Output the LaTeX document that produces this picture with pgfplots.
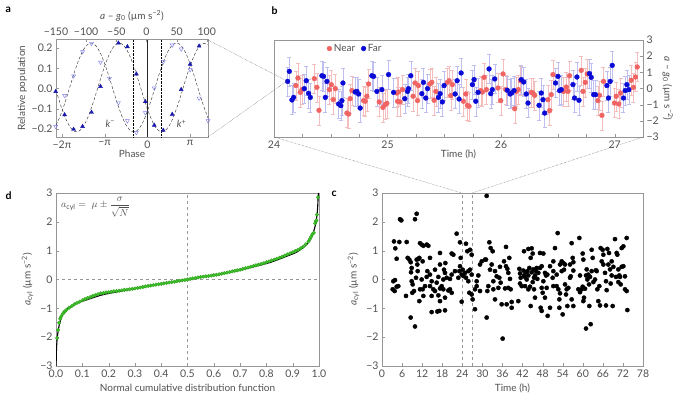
\documentclass[border=0pt]{standalone}
\usepackage{fontspec}
\setmainfont{Lato}
\usepackage{pgfplots}
\pgfplotsset{compat=1.18}
\definecolor{tg}{RGB}{80,80,80}
\definecolor{fg}{RGB}{150,150,150}
\definecolor{dblue}{RGB}{25,25,170}
\definecolor{lblue}{RGB}{120,120,235}
\definecolor{nearc}{RGB}{240,100,100}
\definecolor{farc}{RGB}{10,10,215}
\definecolor{nearl}{RGB}{245,190,190}
\definecolor{farl}{RGB}{190,190,240}
\definecolor{grn}{RGB}{60,195,40}
\pgfplotsset{myax/.style={scale only axis, anchor=south west,
  axis line style={fg}, tick style={fg},
  every tick label/.append style={font=\fontsize{10.5}{11}\selectfont, text=tg},
  label style={font=\fontsize{10}{11}\selectfont, text=tg},
  major tick length=3pt, minor tick length=3pt,
  /pgf/number format/assume math mode=true}}
\newcommand{\unitl}{(µm s\textsuperscript{−2})}
\begin{document}
\begin{tikzpicture}
\path[use as bounding box] (0,0) rectangle (685pt,401pt);
% ---------------- panel a ----------------
\begin{axis}[myax, at={(56pt,264pt)}, width=152pt, height=98pt,
  xmin=-2.14, xmax=1.42, ymin=-0.24, ymax=0.245, clip=false,
  xtick={-2,-1,0,1}, xticklabels={−2π,−π,0,π},
  ytick={-0.2,-0.1,0,0.1,0.2}, yticklabels={−0.2,−0.1,0.0,0.1,0.2},
  xtick pos=bottom, ytick pos=left,
  xlabel={Phase}, ylabel={Relative population},
  xlabel style={yshift=5pt}, ylabel style={yshift=-2pt}]
\addplot[black!85, densely dashed, thin, smooth] coordinates {
(-2.14,-0.009)(-2.1,-0.036)(-2.0,-0.101)(-1.9,-0.155)(-1.8,-0.194)(-1.7,-0.213)(-1.6,-0.211)(-1.5,-0.188)(-1.4,-0.146)(-1.3,-0.089)(-1.2,-0.023)(-1.1,0.046)(-1.0,0.111)(-0.9,0.165)(-0.8,0.204)(-0.7,0.223)(-0.6,0.221)(-0.5,0.198)(-0.4,0.156)(-0.3,0.099)(-0.2,0.033)(-0.1,-0.036)(0.0,-0.101)(0.1,-0.155)(0.2,-0.194)(0.3,-0.213)(0.4,-0.211)(0.5,-0.188)(0.6,-0.146)(0.7,-0.089)(0.8,-0.023)(0.9,0.046)(1.0,0.111)(1.1,0.165)(1.2,0.204)(1.3,0.223)(1.4,0.221)(1.42,0.218)};
\addplot[black!85, densely dashed, thin, smooth] coordinates {
(-2.14,-0.181)(-2.1,-0.165)(-2.0,-0.113)(-1.9,-0.050)(-1.8,0.019)(-1.7,0.086)(-1.6,0.145)(-1.5,0.191)(-1.4,0.218)(-1.3,0.225)(-1.2,0.210)(-1.1,0.175)(-1.0,0.123)(-0.9,0.060)(-0.8,-0.009)(-0.7,-0.076)(-0.6,-0.135)(-0.5,-0.181)(-0.4,-0.208)(-0.3,-0.215)(-0.2,-0.200)(-0.1,-0.165)(0.0,-0.113)(0.1,-0.050)(0.2,0.019)(0.3,0.086)(0.4,0.145)(0.5,0.191)(0.6,0.218)(0.7,0.225)(0.8,0.210)(0.9,0.175)(1.0,0.123)(1.1,0.060)(1.2,-0.009)(1.3,-0.076)(1.4,-0.135)(1.42,-0.146)};
\addplot[black, densely dotted, thin] coordinates {(-0.34,-0.24)(-0.34,0.245)};
\addplot[black, densely dotted, thin] coordinates {(0.33,-0.24)(0.33,0.245)};
\addplot[black!85, line width=1pt] coordinates {(0,-0.24)(0,0.245)};
\addplot[only marks, mark=triangle*, mark size=2.3pt, mark options={fill=dblue, draw=dblue}] coordinates {
(-2.148,-0.015)(-1.938,-0.13)(-1.728,-0.202)(-1.518,-0.188)(-1.308,-0.118)(-1.098,0.01)(-0.678,0.225)(-0.468,0.207)(-0.258,0.072)(-0.048,-0.065)(0.162,-0.182)(0.372,-0.207)(0.582,-0.128)(0.792,-0.005)(1.002,0.12)(1.212,0.21)};
\addplot[only marks, mark=triangle, mark size=2.3pt, mark options={rotate=180, draw=lblue, fill=white}] coordinates {
(-2.148,-0.188)(-1.938,-0.035)(-1.728,0.062)(-1.518,0.182)(-1.308,0.223)(-1.098,0.13)(-0.888,0.05)(-0.678,-0.07)(-0.468,-0.16)(-0.258,-0.218)(-0.048,-0.12)(0.162,0.002)(0.372,0.132)(0.582,0.215)(0.792,0.195)(1.002,0.093)(1.212,-0.048)(1.422,-0.16)};
\node[font=\fontsize{10}{10}\selectfont, text=tg] at (axis cs:-0.87,-0.175) {\textit{k}\textsuperscript{−}};
\node[font=\fontsize{10}{10}\selectfont, text=tg] at (axis cs:0.8,-0.175) {\textit{k}\textsuperscript{+}};
\end{axis}
\begin{axis}[myax, at={(56pt,264pt)}, width=152pt, height=98pt,
  xmin=-150, xmax=102, ymin=0, ymax=1, axis x line*=top, hide y axis,
  xtick={-150,-100,-50,0,50,100}, xticklabels={−150,−100,−50,0,50,100},
  xlabel={\textit{a} – \textit{g}\textsubscript{0} \unitl}]
\end{axis}
% ---------------- panel b ----------------
\begin{axis}[myax, at={(274pt,264pt)}, width=369pt, height=97pt,
  xmin=24, xmax=27.25, ymin=-3, ymax=3, clip=false,
  xtick={24,25,26,27}, minor xtick={24.25,24.5,24.75,25.25,25.5,25.75,26.25,26.5,26.75,27.25},
  ytick={-3,-2,-1,0,1,2,3}, yticklabels={−3,−2,−1,0,1,2,3},
  xtick pos=bottom, ytick pos=right, yticklabel pos=right,
  xlabel={Time (h)}, xlabel style={yshift=5pt},
  ylabel={\textit{a} – \textit{g}\textsubscript{0} \unitl}, ylabel style={rotate=180, yshift=-3pt},
  legend style={at={(0.135,1.0)}, anchor=north west, draw=none, fill=none, legend columns=2,
    font=\fontsize{10}{10}\selectfont, text=tg, /tikz/every even column/.append style={column sep=4pt}},
  legend cell align=left]
\addplot[forget plot, draw=none, mark=none, error bars/.cd, y dir=both, y fixed=0.9,
  error bar style={nearl, thin}, error mark options={nearl, rotate=90, mark size=2pt}] coordinates {
(24.193,0.18)(24.211,0.65)(24.232,-0.24)(24.246,-0.07)(24.355,0.61)(24.378,0.07)(24.396,-1.35)(24.487,-0.07)(24.504,0.24)(24.522,-0.69)(24.540,-0.01)(24.642,-1.52)(24.657,-1.58)(24.671,-0.63)(24.686,-0.13)(24.789,-0.75)(24.803,-0.79)(24.818,-0.48)(24.833,0.28)(24.927,-0.83)(24.959,-1.17)(24.979,-1.00)(24.994,-0.92)(25.082,-0.28)(25.088,-0.79)(25.096,-0.22)(25.108,-0.83)(25.132,-0.07)(25.225,-0.48)(25.243,0.34)(25.264,-0.75)(25.272,0.18)(25.372,0.28)(25.390,0.38)(25.410,-0.73)(25.425,-0.18)(25.527,0.38)(25.542,0.48)(25.557,-0.44)(25.571,0.24)(25.668,-0.79)(25.689,-0.34)(25.703,-1.04)(25.718,-1.10)(25.821,-0.13)(25.835,-0.22)(25.850,0.69)(25.871,-0.07)(25.973,0.03)(25.997,-0.75)(26.017,0.90)(26.041,-0.07)(26.120,-1.25)(26.134,-0.18)(26.152,-0.07)(26.172,0.48)(26.266,-0.24)(26.281,-0.28)(26.296,-0.42)(26.413,-0.69)(26.428,-1.37)(26.442,-0.38)(26.457,0.86)(26.551,-0.18)(26.574,0.09)(26.589,-0.18)(26.603,0.79)(26.706,1.12)(26.721,-0.18)(26.741,0.38)(26.759,0.90)(26.853,-0.75)(26.867,-0.42)(26.888,-1.66)(26.902,0.44)(26.999,-0.90)(27.014,-0.48)(27.037,-0.96)(27.052,-0.28)(27.146,0.51)(27.166,0.07)(27.184,0.71)(27.199,1.33)};
\addplot[forget plot, draw=none, mark=none, error bars/.cd, y dir=both, y fixed=0.9,
  error bar style={farl, thin}, error mark options={farl, rotate=90, mark size=2pt}] coordinates {
(24.120,0.44)(24.135,1.06)(24.158,-0.71)(24.173,-0.55)(24.267,-0.01)(24.284,0.48)(24.305,-0.30)(24.320,-0.55)(24.422,0.79)(24.437,0.75)(24.452,-0.55)(24.466,0.44)(24.569,-0.96)(24.589,-1.06)(24.598,-0.75)(24.607,0.34)(24.715,-0.22)(24.730,-0.18)(24.745,-0.34)(24.759,-1.21)(24.862,0.79)(24.877,0.75)(24.906,-0.18)(24.950,-0.07)(25.009,0.86)(25.053,-0.24)(25.152,-0.63)(25.176,-0.18)(25.184,-0.01)(25.205,0.79)(25.302,-0.32)(25.316,0.38)(25.337,-0.59)(25.352,-0.01)(25.448,-0.55)(25.463,-0.32)(25.483,-0.83)(25.498,0.18)(25.595,-0.34)(25.613,0.48)(25.630,-0.65)(25.648,0.96)(25.747,0.24)(25.762,0.55)(25.777,-0.79)(25.797,-0.24)(25.894,1.21)(25.909,-0.32)(25.923,-0.07)(25.944,0.59)(26.055,-0.11)(26.079,-0.34)(26.093,-0.28)(26.114,-0.13)(26.178,0.55)(26.199,0.40)(26.222,-0.34)(26.237,-0.90)(26.334,-1.04)(26.354,-0.28)(26.369,-0.69)(26.384,-1.52)(26.480,0.34)(26.501,0.75)(26.515,-0.13)(26.530,-0.07)(26.633,0.24)(26.647,-0.59)(26.668,0.71)(26.686,-0.73)(26.779,0.92)(26.794,0.69)(26.815,-0.38)(26.832,-0.38)(26.932,0.18)(26.946,-0.59)(26.961,0.44)(26.979,1.43)(27.078,-0.59)(27.093,-0.13)(27.108,0.24)(27.125,-0.07)};
\addplot[only marks, mark=*, mark size=2.4pt, mark options={fill=nearc, draw=nearc}] coordinates {
(24.193,0.18)(24.211,0.65)(24.232,-0.24)(24.246,-0.07)(24.355,0.61)(24.378,0.07)(24.396,-1.35)(24.487,-0.07)(24.504,0.24)(24.522,-0.69)(24.540,-0.01)(24.642,-1.52)(24.657,-1.58)(24.671,-0.63)(24.686,-0.13)(24.789,-0.75)(24.803,-0.79)(24.818,-0.48)(24.833,0.28)(24.927,-0.83)(24.959,-1.17)(24.979,-1.00)(24.994,-0.92)(25.082,-0.28)(25.088,-0.79)(25.096,-0.22)(25.108,-0.83)(25.132,-0.07)(25.225,-0.48)(25.243,0.34)(25.264,-0.75)(25.272,0.18)(25.372,0.28)(25.390,0.38)(25.410,-0.73)(25.425,-0.18)(25.527,0.38)(25.542,0.48)(25.557,-0.44)(25.571,0.24)(25.668,-0.79)(25.689,-0.34)(25.703,-1.04)(25.718,-1.10)(25.821,-0.13)(25.835,-0.22)(25.850,0.69)(25.871,-0.07)(25.973,0.03)(25.997,-0.75)(26.017,0.90)(26.041,-0.07)(26.120,-1.25)(26.134,-0.18)(26.152,-0.07)(26.172,0.48)(26.266,-0.24)(26.281,-0.28)(26.296,-0.42)(26.413,-0.69)(26.428,-1.37)(26.442,-0.38)(26.457,0.86)(26.551,-0.18)(26.574,0.09)(26.589,-0.18)(26.603,0.79)(26.706,1.12)(26.721,-0.18)(26.741,0.38)(26.759,0.90)(26.853,-0.75)(26.867,-0.42)(26.888,-1.66)(26.902,0.44)(26.999,-0.90)(27.014,-0.48)(27.037,-0.96)(27.052,-0.28)(27.146,0.51)(27.166,0.07)(27.184,0.71)(27.199,1.33)};
\addlegendentry{Near}
\addplot[only marks, mark=*, mark size=2.4pt, mark options={fill=farc, draw=farc}] coordinates {
(24.120,0.44)(24.135,1.06)(24.158,-0.71)(24.173,-0.55)(24.267,-0.01)(24.284,0.48)(24.305,-0.30)(24.320,-0.55)(24.422,0.79)(24.437,0.75)(24.452,-0.55)(24.466,0.44)(24.569,-0.96)(24.589,-1.06)(24.598,-0.75)(24.607,0.34)(24.715,-0.22)(24.730,-0.18)(24.745,-0.34)(24.759,-1.21)(24.862,0.79)(24.877,0.75)(24.906,-0.18)(24.950,-0.07)(25.009,0.86)(25.053,-0.24)(25.152,-0.63)(25.176,-0.18)(25.184,-0.01)(25.205,0.79)(25.302,-0.32)(25.316,0.38)(25.337,-0.59)(25.352,-0.01)(25.448,-0.55)(25.463,-0.32)(25.483,-0.83)(25.498,0.18)(25.595,-0.34)(25.613,0.48)(25.630,-0.65)(25.648,0.96)(25.747,0.24)(25.762,0.55)(25.777,-0.79)(25.797,-0.24)(25.894,1.21)(25.909,-0.32)(25.923,-0.07)(25.944,0.59)(26.055,-0.11)(26.079,-0.34)(26.093,-0.28)(26.114,-0.13)(26.178,0.55)(26.199,0.40)(26.222,-0.34)(26.237,-0.90)(26.334,-1.04)(26.354,-0.28)(26.369,-0.69)(26.384,-1.52)(26.480,0.34)(26.501,0.75)(26.515,-0.13)(26.530,-0.07)(26.633,0.24)(26.647,-0.59)(26.668,0.71)(26.686,-0.73)(26.779,0.92)(26.794,0.69)(26.815,-0.38)(26.832,-0.38)(26.932,0.18)(26.946,-0.59)(26.961,0.44)(26.979,1.43)(27.078,-0.59)(27.093,-0.13)(27.108,0.24)(27.125,-0.07)};
\addlegendentry{Far}
\end{axis}
% ---------------- panel c ----------------
\begin{axis}[myax, at={(382pt,35pt)}, width=261pt, height=173pt,
  xmin=0, xmax=78, ymin=-3, ymax=3,
  xtick={0,6,...,78}, ytick={-3,-2,-1,0,1,2,3}, yticklabels={−3,−2,−1,0,1,2,3},
  xtick pos=bottom, ytick pos=left,
  xlabel={Time (h)}, ylabel={\textit{a}\textsubscript{cyl} \unitl}]
\addplot[fg, dashed, thin] coordinates {(24,-3)(24,3)};
\addplot[fg, dashed, thin] coordinates {(27,-3)(27,3)};
\addplot[only marks, mark=*, mark size=2.1pt, mark options={fill=black, draw=black}] coordinates {
(3.58,1.32)(3.98,1.08)(4.38,0.72)(5.18,1.30)(3.38,-0.06)(3.88,-0.02)(3.19,-0.34)(3.78,-0.40)(4.38,-0.25)(4.88,-0.23)(5.38,2.09)(5.78,2.05)(7.37,1.30)(7.17,-0.57)(7.67,0.75)(8.17,0.69)(8.57,0.60)(8.87,-0.06)(9.16,-0.17)(8.67,0.25)(8.87,0.40)(9.86,2.09)(10.36,2.28)(9.06,-0.46)(9.56,-0.40)(10.36,0.69)(10.86,0.71)(10.56,0.52)(10.16,0.06)(10.66,0.29)(11.36,1.26)(11.85,1.21)(11.16,0.75)(12.35,1.17)(12.15,0.63)(13.35,1.21)(13.85,1.17)(14.34,0.75)(11.85,0.00)(11.36,-0.34)(12.15,-0.34)(12.35,-0.57)(11.16,-0.75)(8.57,-1.32)(9.86,-1.63)(12.85,-0.23)(13.35,0.09)(13.55,0.29)(14.34,0.17)(14.84,-0.06)(14.34,-0.23)(15.34,-0.34)(14.84,-0.57)(15.84,-0.40)(16.34,-0.11)(15.84,0.34)(16.84,0.09)(17.33,0.52)(16.84,-0.55)(17.33,-0.31)(17.83,-0.23)(18.33,-0.34)(18.33,0.00)(18.83,0.23)(19.32,0.06)(18.93,0.57)(18.53,0.34)(17.33,0.92)(20.32,0.02)(20.82,0.17)(20.32,-0.34)(19.82,-0.38)(20.82,-0.46)(18.83,-0.63)(17.33,-0.75)(17.13,-1.09)(14.84,-1.13)(16.54,-1.11)(18.83,-1.07)(21.32,0.86)(20.82,0.90)(21.81,0.29)(22.31,1.59)(22.81,0.06)(23.11,0.29)(23.31,0.46)(23.51,0.75)(23.81,0.17)(24.11,0.34)(23.31,1.29)(24.31,0.12)(24.80,0.23)(25.10,1.24)(25.50,0.98)(25.10,0.06)(25.80,-0.06)(26.30,1.03)(26.30,0.34)(26.80,0.86)(25.80,0.29)(26.80,0.17)(23.81,-0.77)(26.10,-0.46)(26.80,-0.52)(27.09,-0.69)(27.79,-0.34)(28.29,-0.23)(27.79,-1.03)(28.29,-0.06)(28.79,0.14)(29.29,0.52)(29.79,0.63)(29.29,-0.40)(30.78,0.69)(31.08,0.69)(31.28,2.90)(31.28,-1.32)(31.48,-0.40)(31.78,-0.23)(32.08,1.29)(32.28,0.34)(32.77,0.52)(32.47,1.09)(33.07,0.98)(33.27,-0.06)(33.77,0.29)(33.27,-0.34)(33.77,-0.69)(34.27,0.11)(34.77,-0.29)(35.06,0.06)(35.26,0.44)(35.46,-0.11)(35.76,-0.86)(36.06,-2.05)(36.46,0.63)(37.06,0.46)(37.26,-0.86)(36.76,-0.31)(37.06,1.13)(37.46,0.37)(37.75,0.23)(38.05,0.75)(38.25,0.02)(38.45,-0.34)(38.75,-0.98)(38.75,-0.78)(37.75,-0.29)
(41.04,0.37)(41.24,0.21)(41.44,0.06)(41.24,-0.14)(41.74,-0.23)(40.74,-0.75)(42.24,0.31)(42.44,0.14)(42.74,0.09)(43.04,0.25)(43.43,0.29)(43.73,0.14)(43.24,0.00)(42.74,-0.23)(43.73,-0.34)(44.23,-0.25)(42.44,0.98)(43.73,1.06)(44.73,1.08)(45.03,0.90)(44.43,0.75)(44.03,0.40)(44.73,0.25)(45.23,0.35)(45.43,0.06)(45.73,0.14)(46.02,0.29)(46.22,0.40)(45.03,-0.09)(45.43,-0.34)(44.43,-0.92)(45.73,-0.63)(46.42,0.02)(46.72,0.23)(47.22,0.40)(47.22,0.92)(48.22,0.90)(47.72,0.46)(48.22,-0.06)(47.72,-0.29)(48.02,-0.46)(48.71,-0.63)(47.42,-0.98)(47.72,-1.09)(48.71,0.23)(49.01,0.14)(49.41,0.17)(49.21,-0.29)(50.21,-0.98)(49.51,-1.26)(50.21,0.46)(51.20,0.63)(51.70,1.09)(51.20,0.29)(51.01,0.06)(51.20,-0.23)(52.20,0.17)(52.50,1.61)(52.20,-0.23)(52.70,-0.34)(53.00,-0.69)(53.20,-0.48)(53.00,-0.98)(53.70,0.29)(53.20,0.52)(53.70,0.63)(54.19,0.57)(54.39,0.34)(54.69,0.52)(54.69,-0.17)(55.19,-0.34)(54.99,-0.52)(55.69,-0.29)(55.39,-0.92)(53.99,-1.21)(56.19,0.06)(56.39,0.11)(56.68,1.26)(56.98,0.75)(57.18,0.60)(57.18,0.31)(56.19,0.52)(56.68,-0.69)(57.18,-0.92)(58.98,1.44)(59.17,0.14)(58.68,-0.34)(59.17,-0.44)(59.67,-0.34)(59.97,-0.25)(60.17,0.69)(59.97,0.90)(60.37,-0.63)(60.67,-0.32)(60.17,-0.75)(60.97,0.14)(61.17,0.35)(61.66,0.17)(61.37,0.00)(61.86,-0.17)(62.16,0.09)(62.66,0.29)(62.96,0.75)(62.66,1.03)(61.96,-0.92)(60.97,-1.70)(62.36,-1.55)(63.16,-0.09)(63.66,0.00)(63.96,0.32)(64.16,0.29)(64.35,-0.34)(64.65,-0.75)(64.95,-0.23)(65.15,-0.90)(65.35,1.09)(65.95,1.03)(65.65,0.63)(66.15,0.52)(66.15,0.86)(66.65,0.23)(66.94,-0.06)(67.14,-0.37)(67.34,1.06)(67.64,0.52)(67.84,0.92)(66.94,-0.90)(68.14,0.35)(68.64,0.14)(68.34,-0.14)(68.64,0.63)(69.14,0.44)(69.63,1.40)(69.93,0.09)(70.13,0.92)(70.33,0.86)(70.63,-0.09)(70.63,0.35)(70.93,0.14)(71.13,0.09)(71.33,-0.17)(71.63,1.09)(71.63,0.44)(72.13,1.15)(72.13,0.46)(72.62,0.11)(72.62,-0.34)(73.12,1.44)(73.12,-0.40)(73.32,-1.06)(68.94,-0.92)};
\end{axis}
% ---------------- panel d ----------------
\begin{axis}[myax, at={(56pt,35pt)}, width=263pt, height=173pt,
  xmin=0, xmax=1, ymin=-3, ymax=3,
  xtick={0,0.1,...,1.0}, ytick={-3,-2,-1,0,1,2,3}, yticklabels={−3,−2,−1,0,1,2,3},
  xticklabel style={/pgf/number format/.cd, fixed, fixed zerofill, precision=1},
  xtick pos=bottom, ytick pos=left,
  xlabel={Normal cumulative distribution function}, ylabel={\textit{a}\textsubscript{cyl} \unitl}]
\addplot[fg, dashed, thin] coordinates {(0,0)(1,0)};
\addplot[fg, dashed, thin] coordinates {(0.5,-3)(0.5,3)};
\addplot[only marks, mark=*, mark size=1.8pt, mark options={fill=grn, draw=grn!80!black, line width=0.3pt}] coordinates {
(0.004,-2.03)(0.008,-1.75)(0.012,-1.5)(0.016,-1.36)(0.02,-1.28)(0.025,-1.2)(0.03,-1.14)(0.035,-1.1)(0.04,-1.05)(0.05,-0.98)(0.06,-0.92)(0.07,-0.86)(0.08,-0.81)(0.09,-0.77)(0.10,-0.72)(0.11,-0.68)(0.12,-0.64)(0.13,-0.61)(0.14,-0.57)(0.15,-0.54)(0.16,-0.51)(0.17,-0.48)(0.18,-0.47)(0.19,-0.45)(0.20,-0.44)(0.21,-0.425)(0.22,-0.41)(0.23,-0.40)(0.24,-0.39)(0.25,-0.375)(0.26,-0.36)(0.27,-0.35)(0.28,-0.34)(0.29,-0.325)(0.30,-0.31)(0.31,-0.295)(0.32,-0.28)(0.33,-0.26)(0.34,-0.24)(0.35,-0.225)(0.36,-0.21)(0.37,-0.195)(0.38,-0.18)(0.39,-0.165)(0.40,-0.15)(0.41,-0.135)(0.42,-0.12)(0.43,-0.105)(0.44,-0.09)(0.45,-0.075)(0.46,-0.06)(0.47,-0.045)(0.48,-0.03)(0.49,-0.015)(0.50,0.0)(0.51,0.02)(0.52,0.04)(0.53,0.055)(0.54,0.07)(0.55,0.085)(0.56,0.10)(0.57,0.11)(0.58,0.12)(0.59,0.135)(0.60,0.15)(0.61,0.165)(0.62,0.18)(0.63,0.20)(0.64,0.22)(0.65,0.24)(0.66,0.26)(0.67,0.28)(0.68,0.30)(0.69,0.32)(0.70,0.34)(0.71,0.365)(0.72,0.39)(0.73,0.415)(0.74,0.44)(0.75,0.465)(0.76,0.49)(0.77,0.515)(0.78,0.54)(0.79,0.57)(0.80,0.60)(0.81,0.63)(0.82,0.66)(0.83,0.69)(0.84,0.72)(0.85,0.755)(0.86,0.79)(0.87,0.83)(0.88,0.87)(0.89,0.91)(0.90,0.95)(0.91,0.99)(0.92,1.03)(0.93,1.08)(0.94,1.14)(0.95,1.22)(0.96,1.32)(0.965,1.40)(0.97,1.48)(0.975,1.57)(0.98,1.62)(0.985,1.95)(0.988,2.02)(0.99,2.05)(0.992,2.25)(0.996,2.85)};
\addplot[black, line width=1.1pt, smooth] coordinates {
(0.0003,-3.0)(0.002,-2.4)(0.005,-2.0)(0.0128,-1.56)(0.0256,-1.21)(0.045,-1.0)(0.083,-0.81)(0.109,-0.73)(0.173,-0.54)(0.237,-0.42)(0.301,-0.31)(0.365,-0.20)(0.429,-0.11)(0.5,0.0)(0.558,0.09)(0.622,0.18)(0.686,0.30)(0.75,0.44)(0.814,0.59)(0.878,0.81)(0.917,0.96)(0.955,1.23)(0.974,1.52)(0.987,1.92)(0.994,2.39)(0.997,2.91)(0.9985,3.0)};
\node[anchor=north west, text=tg, font=\fontsize{10}{10}\selectfont, inner sep=1pt] at (rel axis cs:0.015,0.985) {$a_{\mathrm{cyl}} = \;\mu \pm \displaystyle\frac{\sigma}{\sqrt{N}}$};
\end{axis}
% ---------------- panel labels & connectors ----------------
\node[font=\bfseries\fontsize{10.5}{10}\selectfont, anchor=north west] at (2pt,398pt) {a};
\node[font=\bfseries\fontsize{10.5}{10}\selectfont, anchor=north west] at (268pt,398pt) {b};
\node[font=\bfseries\fontsize{10.5}{10}\selectfont, anchor=north west] at (328pt,213pt) {c};
\node[font=\bfseries\fontsize{10.5}{10}\selectfont, anchor=north west] at (2pt,213pt) {d};
\draw[black!75, densely dotted, thin] (208pt,361pt) -- (287pt,320pt) -- (208pt,264pt);
\draw[black!75, densely dotted, thin] (274pt,264pt) -- (462pt,208pt);
\draw[black!75, densely dotted, thin] (643pt,264pt) -- (472pt,208pt);
\end{tikzpicture}
\end{document}
